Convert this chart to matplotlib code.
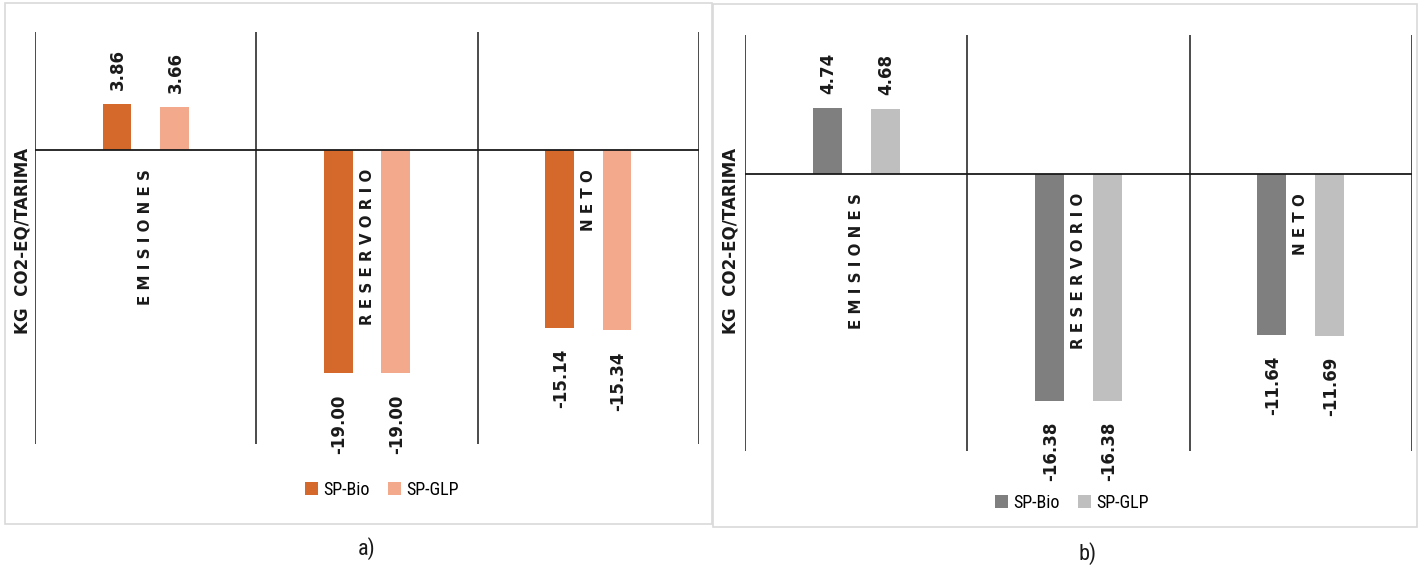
import matplotlib
matplotlib.use("Agg")
import matplotlib.pyplot as plt
from matplotlib.patches import Rectangle
from matplotlib import font_manager
from matplotlib.font_manager import FontProperties
import numpy as np
import os

categories = ["EMISIONES", "RESERVORIO", "NETO"]
series_names = ["SP-Bio", "SP-GLP"]
a_bio = [3.86, -19.00, -15.14]
a_glp = [3.66, -19.00, -15.34]
b_bio = [4.74, -16.38, -11.64]
b_glp = [4.68, -16.38, -11.69]
ylabel = "KG  CO2-EQ/TARIMA"

# locate DejaVu Sans Bold (normal width) file explicitly
bold_path = None
for f in font_manager.fontManager.ttflist:
    if os.path.basename(f.fname) == "DejaVuSans-Bold.ttf":
        bold_path = f.fname
        break
if bold_path is None:
    bold_path = os.path.join(matplotlib.get_data_path(), "fonts", "ttf", "DejaVuSans-Bold.ttf")

def bold(size):
    return FontProperties(fname=bold_path, size=size)

names = {f.name for f in font_manager.fontManager.ttflist}
cond = [n for n in ["Liberation Sans Narrow", "Roboto Condensed", "DejaVu Sans Condensed",
                    "Open Sans Condensed"] if n in names]
leg_family = [cond[0], "DejaVu Sans"] if cond else ["DejaVu Sans"]

W, H = 1424, 571
fig = plt.figure(figsize=(W / 100, H / 100), dpi=100)
fig.patch.set_facecolor("white")

def px_rect(x0, y0, x1, y1):
    return [x0 / W, 1 - y1 / H, (x1 - x0) / W, (y1 - y0) / H]

# panel frames
for (x0, y0, x1, y1) in [(5, 3, 712, 524), (713, 4, 1417, 527)]:
    fig.patches.append(Rectangle((x0 / W, 1 - y1 / H), (x1 - x0) / W, (y1 - y0) / H,
                                 transform=fig.transFigure, fill=False,
                                 edgecolor="#d9d9d9", linewidth=1.2))

TXT = "#1a1a1a"

def panel(rect, bio, glp, colors, ylim, ylab_x, leg_xy, tag, tag_xy):
    ax = fig.add_axes(rect)
    x = np.arange(len(categories))
    w = 0.13
    b1 = ax.bar(x - w, bio, w, color=colors[0], label=series_names[0], zorder=2)
    b2 = ax.bar(x + w, glp, w, color=colors[1], label=series_names[1], zorder=2)
    ax.set_xlim(-0.5, len(categories) - 0.5)
    ax.set_ylim(*ylim)
    for s in ax.spines.values():
        s.set_visible(False)
    ax.set_xticks([])
    ax.set_yticks([])
    for b in np.arange(-0.5, len(categories), 1.0):
        ax.axvline(b, color=TXT, lw=1.1, zorder=1)
    ax.axhline(0, color=TXT, lw=1.3, zorder=3)
    for bars, vals in [(b1, bio), (b2, glp)]:
        for r, v in zip(bars, vals):
            cx = r.get_x() + r.get_width() / 2
            if v >= 0:
                ax.annotate(f"{v:.2f}", (cx, v), xytext=(1, 10), textcoords="offset points",
                            rotation=90, ha="center", va="bottom", fontproperties=bold(12),
                            color=TXT)
            else:
                ax.annotate(f"{v:.2f}", (cx, v), xytext=(1, -15), textcoords="offset points",
                            rotation=90, ha="center", va="top", fontproperties=bold(12),
                            color=TXT)
    for i, c in enumerate(categories):
        ax.annotate(" ".join(c), (i, 0), xytext=(0, -14), textcoords="offset points",
                    rotation=90, ha="center", va="top", fontproperties=bold(10.8), color=TXT)
    fig.text(ylab_x / W, 1 - 241 / H, ylabel, rotation=90, ha="center", va="center",
             fontproperties=bold(12), color=TXT)
    fig.legend(handles=[b1, b2], loc="center", bbox_to_anchor=(leg_xy[0] / W, 1 - leg_xy[1] / H),
               ncol=2, frameon=False, handlelength=0.7, handleheight=0.7,
               handletextpad=0.3, columnspacing=1.0,
               prop=dict(size=13, family=leg_family))
    fig.text(tag_xy[0] / W, 1 - tag_xy[1] / H, tag, ha="center", va="center",
             fontsize=16, color=TXT, family=leg_family)
    return ax

panel(px_rect(35, 32, 699, 444), a_bio, a_glp, ["#D4692B", "#F2A98C"], (-25, 10),
      23, (382, 490), "a)", (367, 549))
panel(px_rect(745, 35, 1412, 451), b_bio, b_glp, ["#7F7F7F", "#BFBFBF"], (-20, 10),
      731, (1072, 503), "b)", (1088, 554))

fig.savefig("out.png", dpi=100, facecolor="white")
